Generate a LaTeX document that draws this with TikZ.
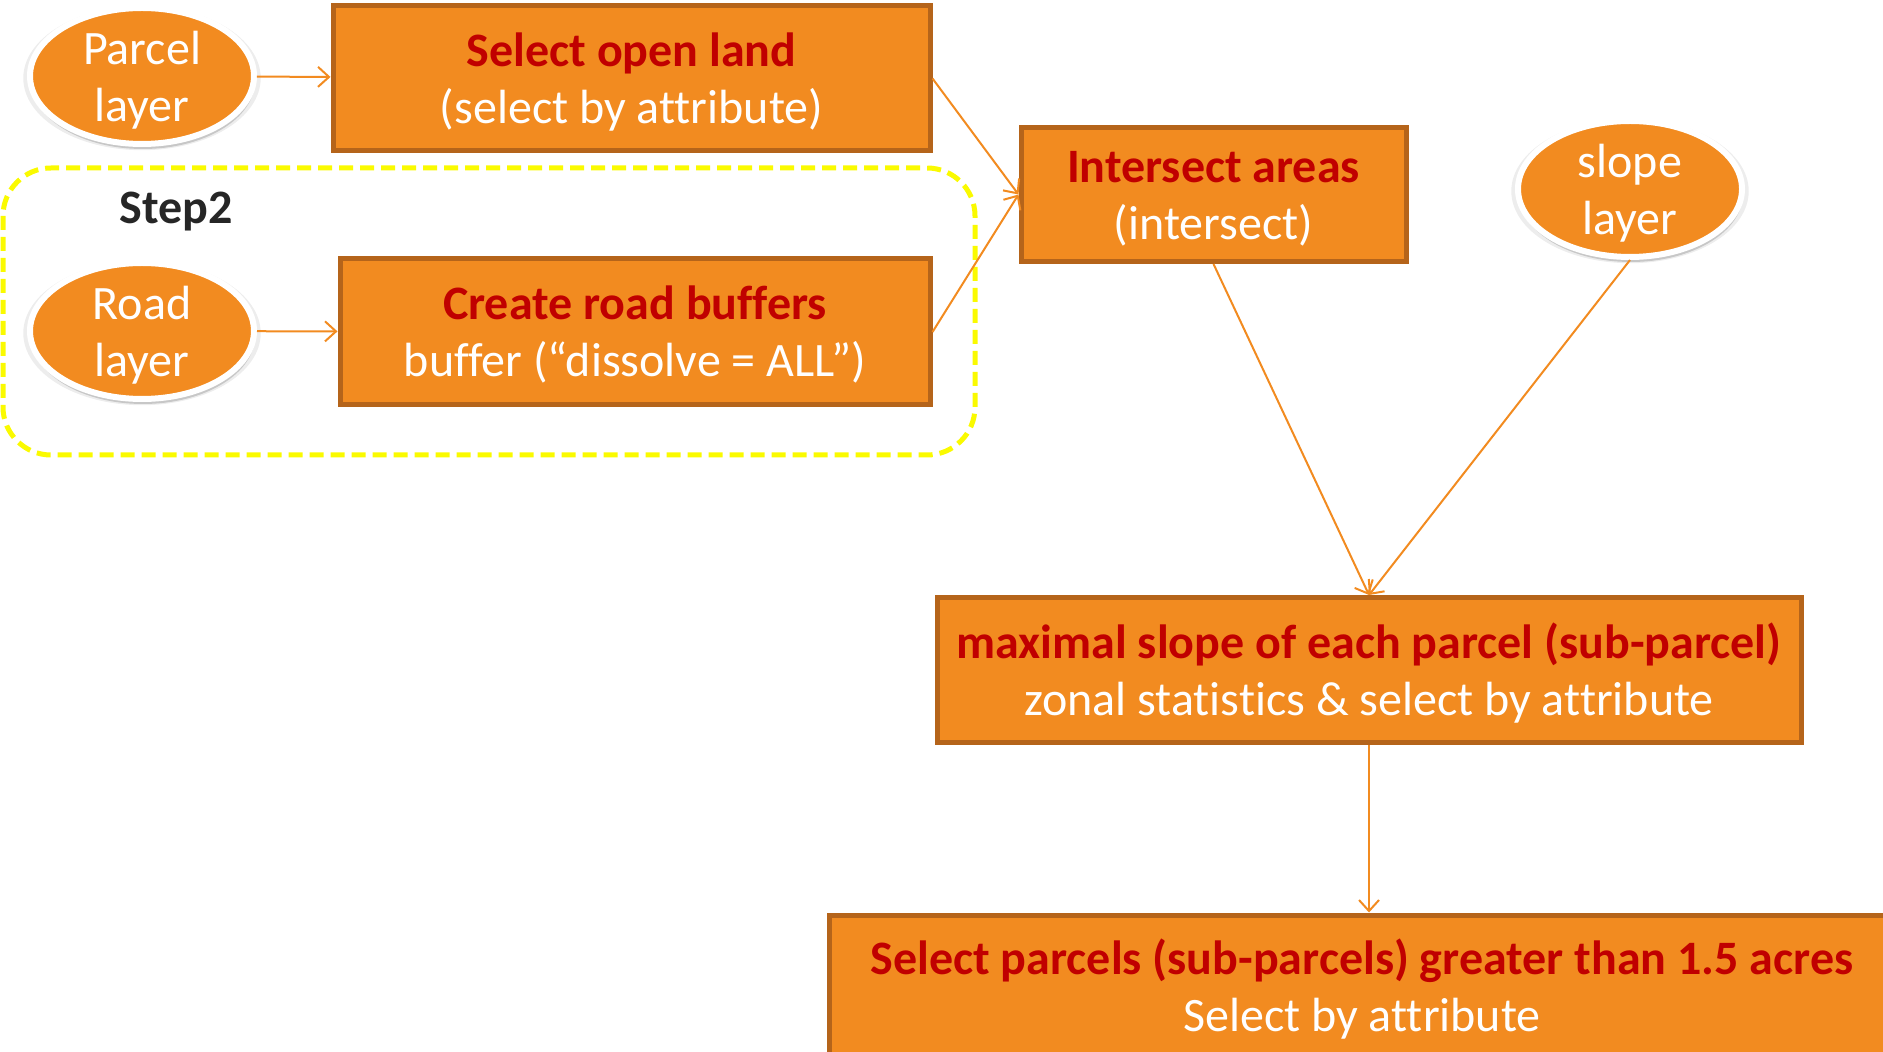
\documentclass[tikz,border=0pt]{standalone}
\usepackage{fontspec}
\setmainfont{Carlito}[Ligatures=NoCommon]
\usetikzlibrary{shapes.geometric,arrows.meta,shadows}
\definecolor{boxfill}{HTML}{F28B20}
\definecolor{boxline}{HTML}{B5641A}
\definecolor{titlered}{HTML}{C00000}
\definecolor{stepyellow}{HTML}{FAFA00}
\definecolor{labelgray}{HTML}{262626}
% struts that fix the height of a first line and the depth of a last line
\newcommand\firstlinestrut{\rule{0pt}{22.5pt}}
\newcommand\lastlinestrut{\rule[-6pt]{0pt}{0pt}}

\begin{document}
\begin{tikzpicture}[x=0.5pt,y=-0.5pt,
  every node/.style={font=\fontsize{24}{28.5}\selectfont},
  procbox/.style={draw=boxline, line width=2.5pt, fill=boxfill, text=white,
    align=center, inner sep=0pt},
  layer/.style={ellipse, draw=white, line width=3pt, fill=boxfill,
    minimum width=112pt, minimum height=68pt, inner sep=0pt,
    drop shadow={shadow xshift=0pt, shadow yshift=-1pt, shadow scale=1.06, opacity=0.07, fill=black},
    drop shadow={shadow xshift=0.5pt, shadow yshift=-2.5pt, opacity=0.16, fill=black},
    label={[text=white, align=center, yshift=-2.2pt]center:#1}},
  flow/.style={draw=boxfill, line width=1pt, -{Straight Barb[length=5.5pt,width=10pt]}}
]
\clip (0,0) rectangle (1883,1052);
\useasboundingbox (0,0) rectangle (1883,1052);

% group frame for step 2
\draw[stepyellow, line width=2.5pt, dash pattern=on 7pt off 3.5pt, rounded corners=24pt]
  (3,168) rectangle (975,455);
\node[font=\fontsize{24}{28.5}\selectfont\bfseries, text=labelgray] (steplabel) at (176,212) {Step2};

% input layers
\node[layer={Parcel\\layer}] (parcel) at (142,76) {};
\node[layer={Road\\layer}] (road) at (142,331) {};
\node[layer={slope\\layer}] (slope) at (1630,189) {};

% processing steps
\node[procbox, minimum width=298.5pt, minimum height=72.5pt] (open) at (631.5,78.5)
  {\firstlinestrut{\bfseries\color{titlered}Select open land}\\(select by attribute)\lastlinestrut};
\node[procbox, minimum width=295pt, minimum height=73pt] (buffer) at (635,332)
  {\firstlinestrut{\bfseries\color{titlered}Create road buffers}\\buffer (“dissolve = ALL”)\lastlinestrut};
\node[procbox, minimum width=192.5pt, minimum height=67pt] (inter) at (1213.5,194.5)
  {\firstlinestrut{\bfseries\color{titlered}Intersect areas}\\(intersect)\lastlinestrut};
\node[procbox, minimum width=432pt, minimum height=72.5pt] (zonal) at (1369,670)
  {\firstlinestrut{\bfseries\color{titlered}maximal slope of each parcel (sub-parcel)}\\zonal statistics \& select by attribute\lastlinestrut};
\node[procbox, minimum width=533pt, minimum height=71pt] (final) at (1362,986)
  {\firstlinestrut{\bfseries\color{titlered}Select parcels (sub-parcels) greater than 1.5 acres}\\Select by attribute\lastlinestrut};

% connectors
\draw[flow] (parcel) -- (open);
\draw[flow] (road) -- (buffer);
\draw[flow] (open.east) -- (inter.west);
\draw[flow] (buffer.east) -- (inter.west);
\draw[flow] (inter.south) -- (zonal.north);
\draw[flow] (slope.south) -- (zonal.north);
\draw[flow] (zonal.south) -- (zonal.south |- final.north);
\end{tikzpicture}
\end{document}
